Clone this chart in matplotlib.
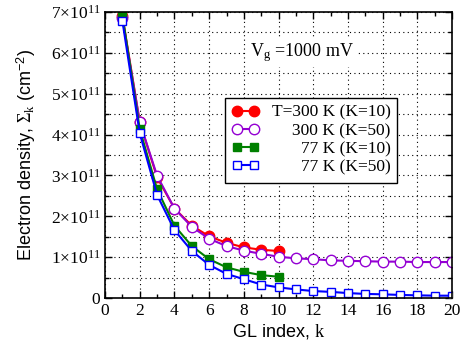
import numpy as np
import matplotlib
matplotlib.use("Agg")
import matplotlib.pyplot as plt
from matplotlib.ticker import MultipleLocator, FuncFormatter

plt.rcParams['mathtext.fontset'] = 'custom'
plt.rcParams['mathtext.rm'] = 'Liberation Serif'
plt.rcParams['mathtext.it'] = 'Liberation Serif:italic'
plt.rcParams['mathtext.sf'] = 'Liberation Sans'
plt.rcParams['font.family'] = 'Liberation Serif'

# GL index and electron densities (units of 1e11 cm^-2)
k10 = np.arange(1, 11)
k50 = np.arange(1, 21)
t300_k10 = [6.90, 4.30, 2.95, 2.19, 1.77, 1.51, 1.35, 1.24, 1.18, 1.15]
t300_k50 = [6.85, 4.30, 2.99, 2.19, 1.74, 1.45, 1.27, 1.16, 1.08, 1.01,
            0.97, 0.95, 0.92, 0.91, 0.90, 0.89, 0.89, 0.88, 0.88, 0.88]
t77_k10 = [6.92, 4.13, 2.66, 1.77, 1.27, 0.95, 0.75, 0.64, 0.56, 0.52]
t77_k50 = [6.78, 4.03, 2.52, 1.66, 1.15, 0.81, 0.59, 0.46, 0.33, 0.26,
           0.21, 0.17, 0.15, 0.12, 0.10, 0.09, 0.075, 0.065, 0.057, 0.057]

labels = ['T=300 K (K=10)', '300 K (K=50)', '77 K (K=10)', '77 K (K=50)']

fig = plt.figure(figsize=(4.69, 3.51), dpi=100)
ax = fig.add_axes([0.224, 0.151, 0.74, 0.815])

lw = 1.5
ax.plot(k10, t300_k10, '-o', color='#ff0000', lw=lw, ms=7.5, label=labels[0])
ax.plot(k50, t300_k50, '-o', color='#9400d3', lw=lw, ms=7.5, mfc='white', mew=1.0, label=labels[1])
ax.plot(k10, t77_k10, '-s', color='#008000', lw=lw, ms=6, label=labels[2])
ax.plot(k50, t77_k50, '-s', color='#0000ff', lw=lw, ms=6, mfc='white', mew=1.0, label=labels[3])

ax.set_xlim(0, 20)
ax.set_ylim(0, 7)
ax.xaxis.set_major_locator(MultipleLocator(2))
ax.xaxis.set_minor_locator(MultipleLocator(1))
ax.yaxis.set_major_locator(MultipleLocator(1))
ax.yaxis.set_minor_locator(MultipleLocator(0.5))


def sci(v, pos):
    if abs(v) < 1e-9:
        return '0'
    return r'$%d{\times}10^{11}$' % round(v)


ax.yaxis.set_major_formatter(FuncFormatter(sci))
ax.tick_params(which='both', direction='in', top=True, right=True, labelsize=12.5, width=1)
ax.tick_params(which='major', length=5)
ax.tick_params(which='minor', length=3)
ax.grid(which='major', axis='x', color='black', ls=(0, (1, 3)), lw=0.8)
ax.grid(which='both', axis='y', color='black', ls=(0, (1, 3)), lw=0.8)
for sp in ax.spines.values():
    sp.set_linewidth(1.2)

ax.set_xlabel(r'GL index, $\mathrm{k}$', family='Liberation Sans', fontsize=13, labelpad=2)
ax.set_ylabel(r'Electron density, $\Sigma_{\rm k}$ (cm$^{\mathsf{-2}}$)', family='Liberation Sans',
              fontsize=13, labelpad=9)

ax.text(0.418, 0.857, r'V$_{\rm g}$ =1000 mV', transform=ax.transAxes, fontsize=13,
        ha='left', va='center', bbox=dict(facecolor='white', edgecolor='none', pad=2))

leg = ax.legend(loc='upper left', bbox_to_anchor=(0.345, 0.70), borderaxespad=0, fontsize=12.5,
                numpoints=2, handlelength=1.6, labelspacing=0.12, handletextpad=0.7,
                borderpad=0.4, fancybox=False, framealpha=1, edgecolor='black')
leg.get_frame().set_linewidth(1.0)

# stretch each legend row to the widest one so labels sit flush right
fig.canvas.draw()
renderer = fig.canvas.get_renderer()
rows = [row for col in leg._legend_handle_box.get_children() for row in col.get_children()]
wmax = max(row.get_bbox(renderer).width for row in rows)
for row in rows:
    row.mode = 'expand'
    row.width = wmax

fig.savefig('out.png', dpi=100)
